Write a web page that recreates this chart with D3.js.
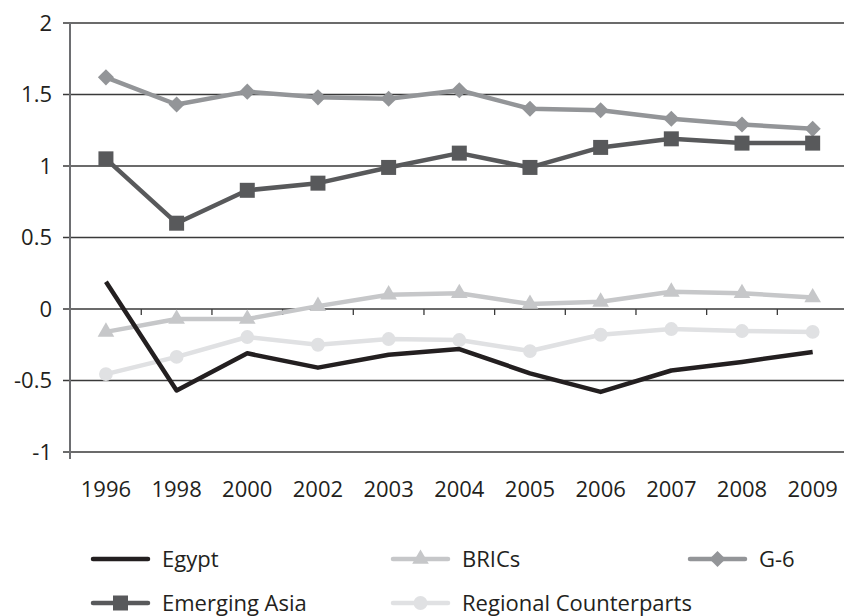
<!DOCTYPE html>
<html>
<head>
<meta charset="utf-8">
<script src="https://cdn.jsdelivr.net/npm/d3@7"></script>
<style>
  body { margin: 0; background: #fff; }
  svg { display: block; font-family: "Open Sans", sans-serif; }
  .line { fill: none; stroke-width: 4.5; stroke-linejoin: round; }
</style>
</head>
<body>
<div class="chart"></div>
<script>
// categories and series values
var years = ["1996","1998","2000","2002","2003","2004","2005","2006","2007","2008","2009"];
var egypt = [0.19,-0.57,-0.31,-0.41,-0.32,-0.28,-0.45,-0.58,-0.43,-0.37,-0.30];
var emergingAsia = [1.05,0.60,0.83,0.88,0.99,1.09,0.99,1.13,1.19,1.16,1.16];
var g6 = [1.62,1.43,1.52,1.48,1.47,1.53,1.40,1.39,1.33,1.29,1.26];
var brics = [-0.16,-0.07,-0.07,0.02,0.10,0.11,0.035,0.05,0.12,0.11,0.08];
var regional = [-0.455,-0.335,-0.196,-0.25,-0.21,-0.217,-0.294,-0.18,-0.14,-0.154,-0.16];
var yTicks = [-1,-0.5,0,0.5,1,1.5,2];

var series = [
    {name: "Regional Counterparts", values: regional, color: "#e0e1e3", marker: "circle"},
    {name: "BRICs", values: brics, color: "#c6c7c9", marker: "triangle"},
    {name: "G-6", values: g6, color: "#939598", marker: "diamond"},
    {name: "Emerging Asia", values: emergingAsia, color: "#58595b", marker: "square"},
    {name: "Egypt", values: egypt, color: "#231f20", marker: null}
];

var width = 844, height = 616;
var fontSize = 22;

var svg = d3.select(".chart").append("svg")
    .attr("width", width)
    .attr("height", height);

// set the ranges
var x = d3.scaleBand().domain(years).range([70.6, 848]);
var y = d3.scaleLinear().domain([-1, 2]).range([452, 23]);

function cx(i){ return x(years[i]) + x.bandwidth() / 2; }

// gridlines
svg.append("g")
    .selectAll("line")
    .data(yTicks)
    .enter().append("line")
    .attr("x1", 63).attr("x2", width)
    .attr("y1", function(d){ return y(d); })
    .attr("y2", function(d){ return y(d); })
    .attr("stroke", "#3a3a3a")
    .attr("stroke-width", 1.3);

// y axis line
svg.append("line")
    .attr("x1", 70).attr("x2", 70)
    .attr("y1", y(2)).attr("y2", y(-1) + 7)
    .attr("stroke", "#6d6e71")
    .attr("stroke-width", 2);

// y labels
svg.append("g")
    .selectAll("text")
    .data(yTicks)
    .enter().append("text")
    .attr("x", 52)
    .attr("y", function(d){ return y(d); })
    .attr("dy", "0.36em")
    .attr("text-anchor", "end")
    .attr("font-size", fontSize)
    .attr("fill", "#231f20")
    .text(function(d){ return d; });

// x tick marks at band boundaries along the zero line
svg.append("g")
    .selectAll("line")
    .data(years.slice(1))
    .enter().append("line")
    .attr("x1", function(d){ return x(d); })
    .attr("x2", function(d){ return x(d); })
    .attr("y1", y(0)).attr("y2", y(0) + 6)
    .attr("stroke", "#3a3a3a")
    .attr("stroke-width", 1.3);

// x labels
svg.append("g")
    .selectAll("text")
    .data(years)
    .enter().append("text")
    .attr("x", function(d){ return x(d) + x.bandwidth() / 2; })
    .attr("y", 497)
    .attr("text-anchor", "middle")
    .attr("font-size", fontSize)
    .attr("fill", "#231f20")
    .text(function(d){ return d; });

var symbols = {
    circle: d3.symbol().type(d3.symbolCircle).size(150),
    triangle: d3.symbol().type(d3.symbolTriangle).size(120),
    diamond: d3.symbol().type(d3.symbolSquare).size(130),
    square: d3.symbol().type(d3.symbolSquare).size(225)
};

function drawMarker(g, s, px, py){
    if (!s.marker) return;
    g.append("path")
        .attr("d", symbols[s.marker]())
        .attr("fill", s.color)
        .attr("transform", "translate(" + px + "," + py + ")" + (s.marker === "diamond" ? " rotate(45)" : ""));
}

// define the line
var valueline = d3.line()
    .x(function(d, i){ return cx(i); })
    .y(function(d){ return y(d); });

series.forEach(function(s){
    var g = svg.append("g");
    g.append("path")
        .attr("class", "line")
        .attr("d", valueline(s.values))
        .attr("stroke", s.color);
    s.values.forEach(function(v, i){
        drawMarker(g, s, cx(i), y(v));
    });
});

// legend
var legendItems = [
    {s: series[4], x: 93, y: 559},
    {s: series[1], x: 393, y: 559},
    {s: series[2], x: 690, y: 559},
    {s: series[3], x: 93, y: 603},
    {s: series[0], x: 393, y: 603}
];

legendItems.forEach(function(item){
    var g = svg.append("g");
    g.append("line")
        .attr("x1", item.x).attr("x2", item.x + 55)
        .attr("y1", item.y).attr("y2", item.y)
        .attr("stroke", item.s.color)
        .attr("stroke-width", 4.5)
        .attr("stroke-linecap", "round");
    drawMarker(g, item.s, item.x + 27.5, item.y);
    g.append("text")
        .attr("x", item.x + 69)
        .attr("y", item.y)
        .attr("dy", "0.36em")
        .attr("font-size", fontSize)
        .attr("fill", "#231f20")
        .text(item.s.name);
});
</script>
</body>
</html>
